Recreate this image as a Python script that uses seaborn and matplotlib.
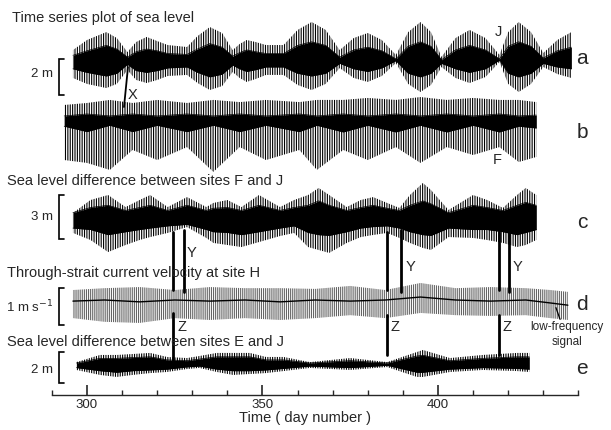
import numpy as np
import matplotlib
matplotlib.use("Agg")
import matplotlib.pyplot as plt
from matplotlib.ticker import FixedLocator
import seaborn as sns

# ---------------- data ----------------
# a: sea level at J (m) - envelope of tidal oscillation
a_days = [296, 300, 305.5, 308.5, 311.5, 314, 317, 320, 323, 328.5, 331.5, 335, 338.5, 341.5,
          343.5, 345.5, 348, 351, 356, 360, 364, 368, 372, 376, 380, 384, 388, 391.5, 395,
          398, 401, 405, 409, 413.5, 417.5, 420, 423, 426.5, 430, 434, 438]
a_up = [0.44, 1.0, 1.44, 1.11, 0.33, 0.89, 1.17, 0.94, 0.72, 0.61, 1.22, 1.72, 1.39, 0.44,
        0.78, 1.0, 0.89, 0.72, 0.72, 1.56, 2.0, 1.56, 0.44, 1.11, 1.39, 1.0, 0.17, 1.44, 2.0,
        1.44, 0.06, 1.11, 1.56, 1.11, 0.17, 1.44, 2.0, 1.44, 0.28, 1.0, 1.44]
a_lo = [-1.11, -1.44, -1.67, -1.44, -0.67, -1.22, -1.39, -1.22, -1.0, -0.94, -1.39, -1.78,
        -1.56, -0.78, -1.11, -1.33, -1.17, -0.94, -0.94, -1.5, -1.78, -1.44, -0.56, -1.11,
        -1.33, -1.0, -0.28, -1.44, -1.89, -1.5, -0.5, -1.11, -1.39, -1.06, -0.22, -1.44,
        -1.89, -1.44, -0.5, -0.89, -1.11]
a_core_up = [0.15, 0.4, 0.7, 0.5, 0.05, 0.35, 0.5, 0.4, 0.25, 0.2, 0.5, 0.8, 0.6, 0.1, 0.3,
             0.45, 0.35, 0.25, 0.25, 0.7, 0.9, 0.7, 0.05, 0.45, 0.6, 0.4, -0.05, 0.65, 0.9,
             0.65, -0.1, 0.45, 0.7, 0.45, -0.05, 0.65, 0.9, 0.65, 0.0, 0.4, 0.6]
a_core_lo = [-0.6, -0.8, -1.0, -0.85, -0.35, -0.7, -0.8, -0.7, -0.55, -0.5, -0.8, -1.05, -0.9,
             -0.4, -0.6, -0.75, -0.65, -0.5, -0.5, -0.85, -1.0, -0.85, -0.3, -0.6, -0.75,
             -0.55, -0.15, -0.85, -1.05, -0.85, -0.3, -0.6, -0.8, -0.6, -0.12, -0.85, -1.05,
             -0.85, -0.3, -0.5, -0.6]

# b: sea level at F (m)
b_days = [293.5, 300, 306.5, 313, 320, 328.5, 336, 343.5, 351, 360.5, 365.5, 373, 380,
          388, 395, 402.5, 410, 417.5, 423, 428]
b_up = [1.28, 1.39, 1.56, 1.39, 1.56, 1.39, 1.56, 1.44, 1.56, 1.44, 1.56, 1.56, 1.67,
        1.56, 1.72, 1.56, 1.67, 1.56, 1.56, 1.44]
b_lo = [-1.78, -1.94, -2.33, -1.22, -1.78, -1.06, -2.44, -1.06, -1.78, -1.22, -2.33, -1.22, -1.78,
        -1.06, -1.94, -1.06, -1.5, -1.06, -1.89, -1.61]
b_core_up = [0.67, 0.78, 0.67, 0.78, 0.67, 0.78, 0.67, 0.78, 0.67, 0.78, 0.67, 0.78, 0.67,
             0.78, 0.67, 0.78, 0.67, 0.78, 0.67, 0.72]
b_core_lo = [0.1, -0.2, 0.15, -0.2, 0.15, -0.2, 0.15, -0.2, 0.15, -0.2, 0.15, -0.22, 0.15,
             -0.22, 0.15, -0.22, 0.15, -0.22, 0.1, 0.0]

# c: sea level difference F - J (m)
c_days = [296, 301, 306, 311, 315, 318, 323, 328.5, 334, 336, 340, 344, 349, 355, 359, 363,
          366, 369, 374, 378, 381.5, 385.5, 389, 392, 395.7, 398, 403, 410, 414, 418.5,
          422.5, 425, 428]
c_up = [0.48, 1.36, 1.70, 0.88, 1.36, 1.70, 0.88, 1.56, 0.88, 1.16, 1.36, 0.88, 1.70, 0.88,
        1.36, 1.70, 2.18, 1.70, 0.88, 1.36, 1.56, 1.16, 0.82, 1.70, 2.52, 2.04, 0.68, 1.70,
        1.36, 0.82, 1.70, 2.18, 1.70]
c_lo = [-0.88, -1.36, -2.18, -1.70, -1.36, -1.16, -0.88, -0.48, -1.22, -1.56, -1.70, -1.84,
        -1.50, -1.09, -0.88, -1.84, -2.04, -2.24, -1.56, -1.16, -1.02, -0.88, -1.22, -1.56,
        -1.90, -2.04, -1.16, -1.22, -1.36, -1.56, -1.84, -1.70, -1.36]
c_core_up = [0.5, 0.85, 1.0, 0.65, 0.85, 1.0, 0.65, 1.0, 0.65, 0.8, 0.85, 0.65, 1.0, 0.65,
             0.85, 1.0, 1.3, 1.0, 0.65, 0.85, 1.0, 0.8, 0.65, 1.0, 1.3, 1.1, 0.5, 1.0, 0.85,
             0.65, 1.0, 1.2, 1.0]
c_core_lo = [-0.55, -0.65, -1.0, -0.8, -0.65, -0.55, -0.4, -0.3, -0.65, -0.8, -0.85, -1.0,
             -0.8, -0.55, -0.4, -0.85, -1.0, -1.05, -0.8, -0.55, -0.45, -0.4, -0.55, -0.8,
             -1.0, -1.05, -0.55, -0.65, -0.65, -0.8, -1.0, -0.85, -0.65]

# d: through-strait current velocity at H (m/s)
d_days = [296, 305, 315, 325, 335, 345, 355, 365, 375, 385, 395, 405, 415, 425, 432, 437]
d_up = [0.27, 0.32, 0.35, 0.27, 0.35, 0.32, 0.32, 0.30, 0.38, 0.27, 0.46, 0.32, 0.35, 0.32, 0.27, 0.22]
d_lo = [-0.49, -0.59, -0.62, -0.49, -0.54, -0.49, -0.54, -0.49, -0.41, -0.49, -0.35, -0.41,
        -0.43, -0.41, -0.49, -0.54]
d_lowfreq = [-0.03, 0.0, -0.05, 0.0, -0.03, 0.0, -0.05, 0.0, -0.03, 0.0, 0.08, 0.0, -0.03,
             0.0, -0.08, -0.14]

# e: sea level difference E - J (m)
e_days = [297, 303.7, 308.5, 313, 318, 322.8, 328.5, 332, 337, 341.6, 346.4, 351, 356,
          363.5, 375, 385.5, 394, 395.7, 403.4, 412.8, 422.5, 426]
e_up = [0.06, 0.52, 0.52, 0.58, 0.65, 0.39, 0.32, 0.45, 0.65, 0.65, 0.65, 0.39, 0.39,
        0.06, 0.32, 0.06, 0.71, 0.84, 0.32, 0.52, 0.65, 0.65]
e_lo = [-0.45, -0.77, -0.90, -0.77, -0.65, -0.58, -0.39, -0.32, -0.58, -0.77, -0.71, -0.65,
        -0.52, -0.32, -0.45, -0.26, -0.90, -0.90, -0.58, -0.45, -0.52, -0.58]
e_core_up = [0.0, 0.3, 0.3, 0.35, 0.4, 0.2, 0.15, 0.25, 0.4, 0.4, 0.4, 0.2, 0.2, 0.0, 0.15,
             0.0, 0.45, 0.5, 0.15, 0.3, 0.4, 0.4]
e_core_lo = [-0.3, -0.5, -0.6, -0.5, -0.45, -0.4, -0.25, -0.2, -0.4, -0.5, -0.5, -0.45, -0.35,
             -0.2, -0.3, -0.15, -0.6, -0.6, -0.4, -0.3, -0.35, -0.4]

major_ticks = [300, 350, 400]
minor_ticks = [290, 300, 310, 320, 330, 340, 350, 360, 370, 380, 390, 400, 410, 420, 430, 440]
titles = ["Time series plot of sea level",
          "Sea level difference between sites F and J",
          "Through-strait current velocity at site H",
          "Sea level difference between sites E and J"]
panel_letters = ["a", "b", "c", "d", "e"]
scale_labels = ["2 m", "3 m", "1 m s$^{-1}$", "2 m"]

# ---------------- layout ----------------
sns.set_style("white")
plt.rcParams["font.family"] = ["Liberation Sans", "DejaVu Sans"]
plt.rcParams["hatch.linewidth"] = 0.8

W, H = 611, 430
fig = plt.figure(figsize=(W / 100, H / 100), dpi=100)
ax = fig.add_axes([0, 0, 1, 1])
PPD = 3.51                      # pixels per day
D0 = 300 - 87 / PPD             # day at left figure edge
ax.set_xlim(D0, D0 + W / PPD)
ax.set_ylim(H, 0)


def X(px):
    return D0 + px / PPD


def draw(days, up, lo, cup, clo, base, scale, color="black", hatch="|||||||"):
    d = np.asarray(days, float)
    yu = base - np.asarray(up) * scale
    yl = base - np.asarray(lo) * scale
    ax.fill_between(d, yu, yl, facecolor="none", edgecolor=color, hatch=hatch, linewidth=0)
    if cup is not None:
        cu = base - np.asarray(cup) * scale
        cl = base - np.asarray(clo) * scale
        ax.fill_between(d, cu, cl, facecolor=color, linewidth=0)
        sns.lineplot(x=d, y=cu, ax=ax, color=color, lw=0.5, sort=False)
        sns.lineplot(x=d, y=cl, ax=ax, color=color, lw=0.5, sort=False)


draw(a_days, a_up, a_lo, a_core_up, a_core_lo, 58, 18)
draw(b_days, b_up, b_lo, b_core_up, b_core_lo, 128, 18)
draw(c_days, c_up, c_lo, c_core_up, c_core_lo, 220, 14.7)
draw(d_days, d_up, d_lo, None, None, 300, 37, color="#666666", hatch="||||||||")
sns.lineplot(x=np.asarray(d_days, float), y=300 - np.asarray(d_lowfreq) * 37, ax=ax,
             color="black", lw=1.0, sort=False)
draw(e_days, e_up, e_lo, e_core_up, e_core_lo, 363, 15.5)


# scale bars
def bracket(y0, y1, label, ly):
    ax.plot([X(64), X(59), X(59), X(64)], [y0, y0, y1, y1], color="black", lw=1.2,
            solid_joinstyle="miter")
    ax.text(X(53), ly, label, ha="right", va="center", fontsize=9.5)


bracket(59, 95, scale_labels[0], 74)
bracket(195, 239, scale_labels[1], 217)
bracket(288, 325, scale_labels[2], 307)
bracket(352, 383, scale_labels[3], 370)

# titles
ax.text(X(12), 18, titles[0], ha="left", va="center", fontsize=10.5)
ax.text(X(7), 181, titles[1], ha="left", va="center", fontsize=10.5)
ax.text(X(7), 273, titles[2], ha="left", va="center", fontsize=10.5)
ax.text(X(7), 342, titles[3], ha="left", va="center", fontsize=10.5)

# panel letters
for lt, yy in zip(panel_letters, [59, 133, 223, 305, 368]):
    ax.text(X(582), yy, lt, ha="center", va="center", fontsize=15)

# site labels
ax.text(X(498), 32, "J", ha="center", va="center", fontsize=10.5)
ax.text(X(497), 160, "F", ha="center", va="center", fontsize=10.5)
ax.plot([X(128), X(124)], [67, 107], color="black", lw=1.3)
ax.text(X(133), 95, "X", ha="center", va="center", fontsize=10.5)

# Y markers
for xa, xb, ty, lx in [(173, 184, 253, 192), (387, 401, 267, 410), (499, 509, 267, 517)]:
    ax.plot([X(xa), X(xa)], [232, 290], color="black", lw=2.0)
    ax.plot([X(xb), X(xb)], [230, 292], color="black", lw=2.0)
    ax.text(X(lx), ty, "Y", ha="center", va="center", fontsize=10.5)

# Z markers
for xa, y0, y1, lx in [(173, 313, 360, 182), (387, 315, 355, 395), (499, 315, 355, 507)]:
    ax.plot([X(xa), X(xa)], [y0, y1], color="black", lw=2.0)
    ax.text(X(lx), 327, "Z", ha="center", va="center", fontsize=10.5)

# low-frequency annotation
ax.annotate("", xy=(X(555), 305), xytext=(X(561), 322),
            arrowprops=dict(arrowstyle="-", color="black", lw=0.9))
ax.text(X(567), 327, "low-frequency", ha="center", va="center", fontsize=8.5)
ax.text(X(567), 342, "signal", ha="center", va="center", fontsize=8.5)

# time axis
for s in ["top", "left", "right"]:
    ax.spines[s].set_visible(False)
ax.spines["bottom"].set_position(("data", 395))
ax.spines["bottom"].set_bounds(290, 440)
ax.spines["bottom"].set_linewidth(1.0)
ax.set_xticks(major_ticks)
ax.xaxis.set_minor_locator(FixedLocator(minor_ticks))
ax.tick_params(axis="x", which="major", bottom=True, direction="in", length=7, width=1.2,
               labelsize=9.5, pad=3)
ax.tick_params(axis="x", which="minor", bottom=True, direction="in", length=3.5, width=1.0)
ax.set_yticks([])
ax.text(X(305), 418, "Time ( day number )", ha="center", va="center", fontsize=10.5)

fig.savefig("out.png", dpi=100)
